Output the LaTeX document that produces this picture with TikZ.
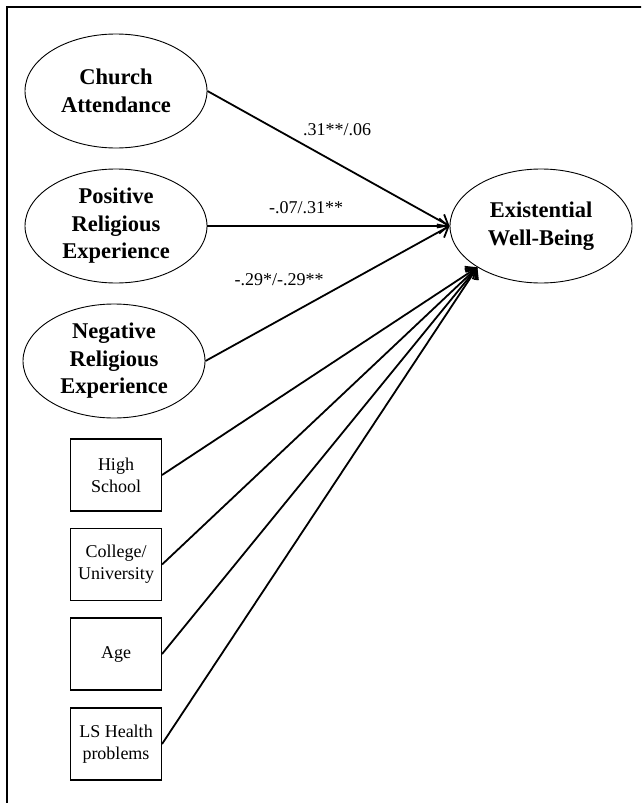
\documentclass[tikz,border=0pt]{standalone}
\usepackage{fontspec}
\setmainfont{Liberation Serif}
\usepackage{tikz}
\usetikzlibrary{shapes.geometric,arrows.meta}
\tikzstyle{latent}=[ellipse, draw=black, line width=0.9pt, minimum width=182pt, minimum height=114pt, inner sep=0pt, align=center, font=\fontsize{22.5}{27.5}\selectfont\bfseries]
\tikzstyle{observed} = [rectangle, draw=black, line width=1.1pt, minimum width=91pt, minimum height=72pt, inner sep=0pt, align=center, font=\fontsize{18}{21.7}\selectfont]
\tikzstyle{effect} = [draw, line width=1.8pt, -{Straight Barb[length=9pt,width=15pt,line width=1.8pt]}, black]
\tikzstyle{coef} = [font=\fontsize{18}{21.7}\selectfont, inner sep=0pt]

\begin{document}
\begin{tikzpicture}[x=1pt, y=-1pt]

				\clip (0,0) rectangle (641,803);
				\draw[line width=1.5pt] (7,830) -- (7,7) -- (660,7);

				\node[latent] (r_1) at (116, 91) {Church\\Attendance};
				\node[latent] (r_2) at (116, 226) {Positive\\Religious\\Experience};
				\node[latent] (r_3) at (114, 361) {Negative\\Religious\\Experience};
				\node[latent] (w) at (541, 226) {Existential\\Well-Being};

				\node[observed] (c_1) at (116, 475) {High\\School};
				\node[observed] (c_2) at (116, 564.5) {College/\\University};
				\node[observed] (c_3) at (116, 654) {Age};
				\node[observed] (c_4) at (116, 744) {LS Health\\problems};

				\draw[effect] (r_1.east) -- (w.west);
				\draw[effect] (r_2.east) -- (w.west);
				\draw[effect] (r_3.east) -- (w.west);
				% controls
				\draw[effect] (c_1.east) -- (w.213);
				\draw[effect] (c_2.east) -- (w.213);
				\draw[effect] (c_3.east) -- (w.213);
				\draw[effect] (c_4.east) -- (w.213);

				\node[coef] (b_1) at (337, 130) {.31**/.06};
				\node[coef] (b_2) at (306, 208) {-.07/.31**};
				\node[coef] (b_3) at (279, 280) {-.29*/-.29**};
			\end{tikzpicture}
\end{document}
